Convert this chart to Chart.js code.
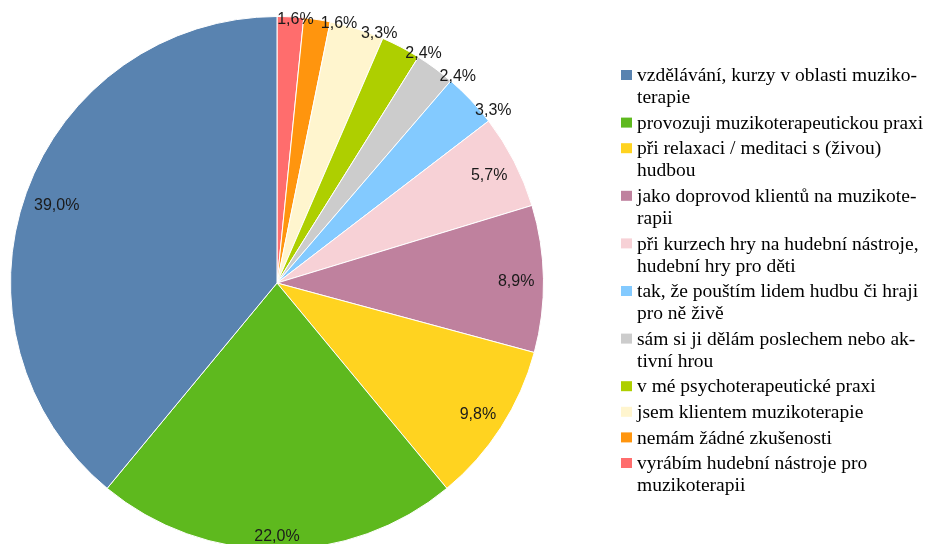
<!DOCTYPE html>
<html>
<head>
<meta charset="utf-8">
<script src="https://cdn.jsdelivr.net/npm/chart.js@4/dist/chart.umd.min.js"></script>
<style>
  html, body { margin: 0; padding: 0; background: #fff; overflow: hidden; width: 933px; height: 544px; }
  #wrap { position: absolute; left: 0; top: 0; width: 933px; height: 566px; }
</style>
</head>
<body>
<div id="wrap"><canvas id="myChart" width="933" height="566"></canvas></div>
<script>
// legend order (as in the source)
var categories = [
    ['vzdělávání, kurzy v oblasti muziko-', 'terapie'],
    ['provozuji muzikoterapeutickou praxi'],
    ['při relaxaci / meditaci s (živou)', 'hudbou'],
    ['jako doprovod klientů na muzikote-', 'rapii'],
    ['při kurzech hry na hudební nástroje,', 'hudební hry pro děti'],
    ['tak, že pouštím lidem hudbu či hraji', 'pro ně živě'],
    ['sám si ji dělám poslechem nebo ak-', 'tivní hrou'],
    ['v mé psychoterapeutické praxi'],
    ['jsem klientem muzikoterapie'],
    ['nemám žádné zkušenosti'],
    ['vyrábím hudební nástroje pro', 'muzikoterapii']
];
var percentValues = [39.0, 22.0, 9.8, 8.9, 5.7, 3.3, 2.4, 2.4, 3.3, 1.6, 1.6];
var sliceColors = ['#5983b0', '#5eb91e', '#ffd320', '#bf819e', '#f7d1d6', '#83caff',
                   '#cccccc', '#aecf00', '#fff5ce', '#ff950e', '#ff6d6d'];

// slices run counter-clockwise from the top, so draw them reversed
var drawLabels = categories.slice().reverse().map(function (l) { return l.join(' '); });
var drawValues = percentValues.slice().reverse();
var drawColors = sliceColors.slice().reverse();

function fmt(v) { return v.toFixed(1).replace('.', ',') + '%'; }

var pctLabels = {
    id: 'pctLabels',
    afterDatasetsDraw: function (chart) {
        var ctx = chart.ctx;
        var arcs = chart.getDatasetMeta(0).data;
        ctx.save();
        ctx.font = '16px "Liberation Sans", Arial, sans-serif';
        ctx.fillStyle = '#1a1a1a';
        ctx.textAlign = 'center';
        ctx.textBaseline = 'middle';
        var prevOutside = false;
        arcs.forEach(function (arc, i) {
            var v = drawValues[i];
            var txt = fmt(v);
            var a = (arc.startAngle + arc.endAngle) / 2;
            var r = arc.outerRadius;
            var hw = ctx.measureText(txt).width / 2, hh = 6;
            var proj = hw * Math.abs(Math.cos(a)) + hh * Math.abs(Math.sin(a));
            var cx, cy;
            if (v < 5) {
                // small slices: label outside, pushed along when it follows another one
                var t = prevOutside ? 22 : 5;
                var d = r - 7 + proj;
                cx = arc.x + Math.cos(a) * d - Math.sin(a) * t;
                cy = arc.y + Math.sin(a) * d + Math.cos(a) * t;
                prevOutside = true;
            } else {
                var d2 = r - 9 - proj;
                cx = arc.x + Math.cos(a) * d2;
                cy = arc.y + Math.sin(a) * d2;
                prevOutside = false;
            }
            ctx.fillText(txt, cx, cy + 2);
        });
        ctx.restore();
    }
};

// legend drawn on the canvas, in source order
var sideLegend = {
    id: 'sideLegend',
    afterDraw: function (chart) {
        var ctx = chart.ctx;
        ctx.save();
        ctx.font = '19.5px "Liberation Serif", "Times New Roman", serif';
        ctx.textAlign = 'left';
        ctx.textBaseline = 'middle';
        var x = 621, y = 75, lineH = 22, gap = 3.6, maxW = 286;
        categories.forEach(function (lines, i) {
            ctx.fillStyle = sliceColors[i];
            ctx.fillRect(x, y - 5, 11, 10);
            ctx.fillStyle = '#000';
            lines.forEach(function (ln, k) {
                var w = ctx.measureText(ln).width;
                var sx = w > maxW ? maxW / w : 1;
                ctx.save();
                ctx.translate(x + 16, y + k * lineH + 1);
                ctx.scale(sx, 1);
                ctx.fillText(ln, 0, 0);
                ctx.restore();
            });
            y += lines.length * lineH + gap;
        });
        ctx.restore();
    }
};

var ctx = document.getElementById('myChart').getContext('2d');
var myChart = new Chart(ctx, {
    type: 'pie',
    data: {
        labels: drawLabels,
        datasets: [{
            data: drawValues,
            backgroundColor: drawColors,
            borderColor: '#ffffff',
            borderWidth: 1
        }]
    },
    options: {
        responsive: false,
        animation: false,
        layout: { padding: { left: 10, right: 389, top: 16, bottom: 16 } },
        plugins: { legend: { display: false }, tooltip: { enabled: false } }
    },
    plugins: [pctLabels, sideLegend]
});
</script>
</body>
</html>
